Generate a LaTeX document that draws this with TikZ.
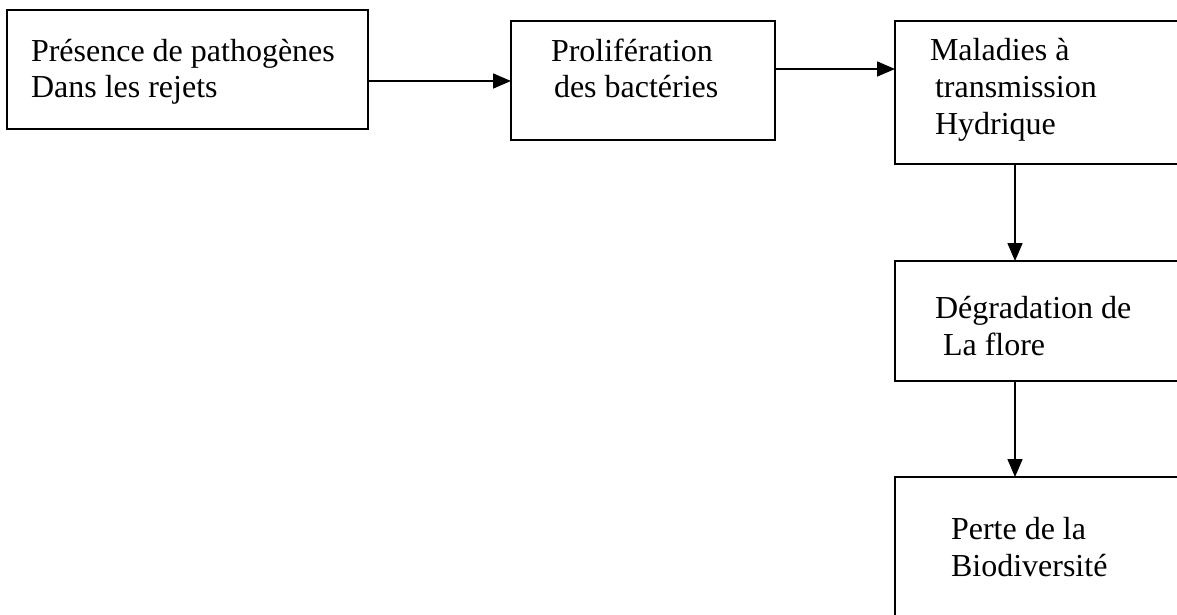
\documentclass[tikz,border=0pt]{standalone}
\usepackage{fontspec}
\setmainfont{Liberation Serif}
\usetikzlibrary{arrows.meta}
\begin{document}
\begin{tikzpicture}[x=1pt,y=-1pt,
  box/.style={draw=black, line width=1.8pt, inner sep=0pt, outer sep=0pt, anchor=north west},
  txt/.style={anchor=base west, inner sep=0pt, outer sep=0pt, font=\fontsize{32}{38}\selectfont},
  arr/.style={line width=1.6pt, -{Triangle[length=18pt,width=15pt]}}]
\clip (0,0) rectangle (1177,615);
\fill[white] (0,0) rectangle (1177,615);
% boxes
\node[box, minimum width=361pt, minimum height=119pt] (b1) at (7,10) {};
\node[box, minimum width=264pt, minimum height=119pt] (b2) at (511,21) {};
\node[box, minimum width=300pt, minimum height=143pt] (b3) at (895,21) {};
\node[box, minimum width=300pt, minimum height=120pt] (b4) at (895,261) {};
\node[box, minimum width=300pt, minimum height=170pt] (b5) at (895,477) {};
% labels, one line each
\node[txt] (t1a) at (31,62) {Présence de pathogènes};
\node[txt] (t1b) at (31,98) {Dans les rejets};
\node[txt] (t2a) at (551,62) {Prolifération};
\node[txt] (t2b) at (554,98) {des bactéries};
\node[txt] (t3a) at (930,61) {Maladies à};
\node[txt] (t3b) at (935,98) {transmission};
\node[txt] (t3c) at (935,135) {Hydrique};
\node[txt] (t4a) at (935,318) {Dégradation de};
\node[txt] (t4b) at (943,355) {La flore};
\node[txt] (t5a) at (951,539) {Perte de la};
\node[txt] (t5b) at (951,576) {Biodiversité};
% connectors
\draw[arr] (b1.east |- 0,81) -- (b2.west |- 0,81);
\draw[arr] (b2.east |- 0,69) -- (b3.west |- 0,69);
\draw[arr] (b3.south -| 1015,0) -- (b4.north -| 1015,0);
\draw[arr] (b4.south -| 1015,0) -- (b5.north -| 1015,0);
\end{tikzpicture}
\end{document}
